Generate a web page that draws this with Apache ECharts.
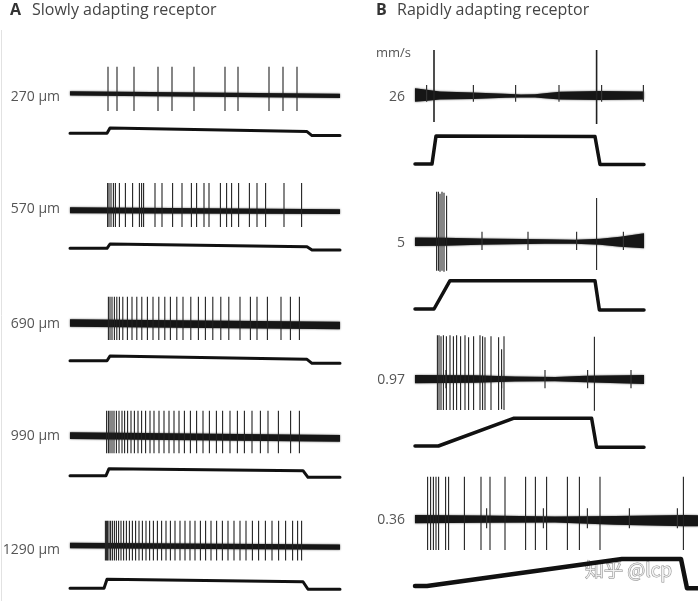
<!DOCTYPE html>
<html>
<head>
<meta charset="utf-8">
<script src="https://cdn.jsdelivr.net/npm/echarts/dist/echarts.min.js"></script>
<style>
  html, body { margin: 0; background: #fff; }
  #main { width: 698px; height: 601px; }
</style>
</head>
<body>
<div id="main"></div>
<script>
// time in ms from the start of each sweep, trace values in arbitrary units (up = positive)

// A  slowly adapting receptor: indentation depth
const labelsA = ['270 µm', '570 µm', '690 µm', '990 µm', '1290 µm'];
const spikeTimesA = [
  [190, 235, 320, 440, 510, 620, 775, 840, 995, 1065, 1135],
  [188, 195, 205, 217, 227, 247, 277, 313, 347, 358, 368, 425, 460, 513, 560, 607, 633, 670,
   695, 752, 783, 808, 843, 897, 935, 978, 1070, 1158],
  [192, 200, 210, 222, 234, 247, 264, 287, 310, 334, 359, 387, 415, 444, 474, 502, 534, 565,
   604, 642, 677, 714, 754, 794, 850, 902, 935, 987, 1055, 1102, 1147],
  [183, 192, 200, 210, 220, 232, 245, 260, 273, 288, 305, 322, 340, 358, 378, 400, 420, 445,
   470, 495, 520, 545, 572, 602, 633, 665, 697, 732, 763, 800, 837, 872, 910, 952, 990, 1042,
   1103, 1147],
  [177, 183, 188, 195, 203, 212, 222, 232, 243, 255, 268, 282, 297, 312, 328, 345, 362, 380,
   398, 417, 437, 458, 480, 502, 525, 550, 575, 600, 625, 652, 678, 705, 733, 762, 790, 820,
   850, 880, 912, 943, 977, 1010, 1043, 1078, 1113, 1138, 1158]
];
const spikeAmpA = [[26.8, -17.5], [27, -17], [26.6, -16.7], [26, -16.6], [27.4, -16]];
const bandA = [
  [[0, 2.3, -2], [1350, -0.3, -4.6]],
  [[0, 2.7, -3.3], [1350, 0.7, -4]],
  [[0, 4, -3.4], [1350, 1.6, -6]],
  [[0, 4.4, -2.3], [1350, 1.7, -5]],
  [[0, 3.4, -2.6], [1350, 1.4, -4.3]]
];
const stimA = [
  [[0, 0], [185, 0], [200, 5.3], [1185, 1.7], [1210, -2.3], [1350, -2.3]],
  [[0, 0], [185, 0], [200, 4.3], [1185, 1.6], [1210, -1.7], [1350, -1.7]],
  [[0, 0], [185, 0], [200, 4.7], [1185, 1.4], [1210, -2.6], [1350, -2.6]],
  [[0, 0], [180, 0], [195, 7], [1165, 5], [1190, -1.6], [1350, -1.6]],
  [[0, 0], [170, 0], [185, 9], [1165, 6.6], [1190, -1], [1350, -1]]
];

// B  rapidly adapting receptor: indentation velocity
const unitB = 'mm/s';
const labelsB = ['26', '5', '0.97', '0.36'];
const spikesB = [
  [[95, 46, -26], [908, 46, -28]],
  [[108, 50, -29], [117, 50, -29], [125, 48, -30], [135, 50, -29], [145, 49, -30], [158, 46, -29],
   [908, 43.7, -28.3]],
  [[112, 44, -30.7], [120, 44, -30.7], [130, 43, -30.7], [142, 44, -30.7], [157, 43, -30.7],
   [175, 44, -30.7], [192, 43, -30.7], [208, 44, -30.7], [228, 43, -30.7], [250, 44, -30.7],
   [268, 42, -30.7], [293, 43, -30.7], [325, 44, -30.7], [338, 43, -30.7], [350, 42, -30.7],
   [380, 43, -30.7], [418, 42, -30.7], [433, 30, -30], [445, 43, -30.7], [897, 42.6, -31.4]],
  [[63, 42.6, -30.7], [78, 42.6, -30.7], [92, 42.6, -30.7], [105, 42.6, -30.7], [118, 42.6, -30.7],
   [153, 42.6, -30.7], [168, 42.6, -30.7], [247, 42.6, -30.7], [330, 42.6, -30.7], [375, 42.6, -30.7],
   [450, 42.6, -30.7], [553, 42.6, -30.7], [602, 42.6, -30.7], [658, 42.6, -30.7], [762, 42.6, -30.7],
   [822, 42.6, -30.7], [925, 42.6, -30.7], [1342, 42.6, -30.7]]
];
const ticksB = [
  [58, 292, 503, 720, 933, 1142],
  [335, 565, 808, 1042],
  [155, 433, 650, 863, 1080],
  [358, 642, 862, 1072, 1312]
];
const tickAmpB = [[11, -5.7], [10, -8.3], [9.3, -9], [11, -9]];
const bandB = [
  [[0, 7.7, -5.7], [50, 6.5, -5], [125, 4.5, -3.5], [290, 3.5, -3], [450, 2.2, -1.8], [530, 1.6, -1.5],
   [600, 1.8, -1.6], [660, 3, -2.5], [725, 4.3, -3.5], [925, 5, -4], [1145, 4.5, -3.5]],
  [[0, 4.3, -4.3], [150, 4, -4], [325, 3.3, -3], [650, 2.5, -2.1], [800, 2, -2], [925, 3, -3],
   [1025, 5, -5], [1145, 8.4, -6.6]],
  [[0, 4.3, -4], [300, 4, -3.5], [500, 2.8, -2.3], [700, 2.4, -2], [850, 3.5, -3], [1145, 4.3, -4.7]],
  [[0, 4.3, -4], [350, 3.7, -3.5], [700, 2.9, -3.3], [1000, 3.3, -5.5], [1350, 4.3, -7], [1415, 4, -7]]
];
const stimB = [
  [[0, 0], [85, 0], [105, 28], [900, 27.5], [925, -0.5], [1145, -0.5]],
  [[0, 0], [95, 0], [175, 28.3], [900, 28.3], [922, -1], [1145, -1]],
  [[0, 0], [117, 0], [492, 27.7], [883, 27.7], [908, -1.3], [1145, -1.3]],
  [[0, 0], [60, 0], [1035, 27], [1330, 27], [1360, -2.3], [1415, -2.3]]
];

// ---- layout (pixels) ----
const traceYA = [93.5, 210, 323.3, 436.7, 550.7];
const stimYA = [133.3, 248.3, 360.7, 475.7, 588.3];
const labelYA = [97, 209.5, 324.5, 436.5, 550.5];
const traceYB = [96, 241.7, 379.3, 519.3];
const stimYB = [164, 309, 446, 586];
const labelYB = [97, 243, 380.5, 520.5];

const grids = [], xAxes = [], yAxes = [], series = [];

function addGrid(left, width, top, height, xmax, ymin, ymax) {
  grids.push({ left: left, top: top, width: width, height: height });
  const i = grids.length - 1;
  xAxes.push({ type: 'value', gridIndex: i, min: 0, max: xmax, show: false });
  yAxes.push({ type: 'value', gridIndex: i, min: ymin, max: ymax, show: false });
  return i;
}

// noisy recording baseline drawn as a filled envelope
function band(gi, pts) {
  series.push({
    type: 'custom', xAxisIndex: gi, yAxisIndex: gi, silent: true, data: pts,
    encode: { x: 0, y: [1, 2] },
    renderItem: function (params, api) {
      if (params.dataIndex !== 0) return null;
      const upper = pts.map(p => api.coord([p[0], p[1]]));
      const lower = pts.map(p => api.coord([p[0], p[2]])).reverse();
      return {
        type: 'polygon', shape: { points: upper.concat(lower) },
        style: { fill: '#161616', shadowBlur: 2, shadowColor: 'rgba(0,0,0,0.7)' }
      };
    }
  });
}

function spikes(gi, list, width, color) {
  series.push({
    type: 'custom', xAxisIndex: gi, yAxisIndex: gi, silent: true, data: list,
    encode: { x: 0, y: [1, 2] },
    renderItem: function (params, api) {
      const a = api.coord([api.value(0), api.value(1)]);
      const b = api.coord([api.value(0), api.value(2)]);
      return {
        type: 'line', shape: { x1: a[0], y1: a[1], x2: b[0], y2: b[1] },
        style: { stroke: color, lineWidth: width }
      };
    }
  });
}

function stim(gi, pts, w) {
  series.push({
    type: 'line', xAxisIndex: gi, yAxisIndex: gi, data: pts, showSymbol: false, silent: true,
    lineStyle: { color: '#111', width: w, cap: 'round', join: 'round' }
  });
}

const graphics = [];
function text(x, y, s, opt) {
  graphics.push({
    type: 'text', x: x, y: y, silent: true,
    style: Object.assign({
      text: s, fill: '#555', font: '14px "Open Sans", sans-serif',
      textAlign: 'left', textVerticalAlign: 'middle'
    }, opt || {})
  });
}

// panel A
labelsA.forEach((lab, r) => {
  const g = addGrid(70, 270, traceYA[r] - 60, 120, 1350, -60, 60);
  band(g, bandA[r]);
  spikes(g, spikeTimesA[r].map(t => [t, spikeAmpA[r][0], spikeAmpA[r][1]]), 1.1, '#222');
  const s = addGrid(70, 270, stimYA[r] - 40, 50, 1350, -10, 40);
  stim(s, stimA[r], 3);
  text(60, labelYA[r], lab, { textAlign: 'right' });
});

// panel B
labelsB.forEach((lab, r) => {
  const last = r === labelsB.length - 1;
  const w = last ? 283 : 229, xmax = last ? 1415 : 1145;
  const g = addGrid(415, w, traceYB[r] - 60, 120, xmax, -60, 60);
  band(g, bandB[r]);
  spikes(g, ticksB[r].map(t => [t, tickAmpB[r][0], tickAmpB[r][1]]), 1.2, '#333');
  spikes(g, spikesB[r], r === 0 ? 1.6 : 1.1, '#222');
  const s = addGrid(415, w, stimYB[r] - 40, 50, xmax, -10, 40);
  stim(s, stimB[r], last ? 4.5 : 3.5);
  text(405, labelYB[r], lab, { textAlign: 'right' });
});

text(10, 10, 'A', { font: 'bold 16px "Open Sans", sans-serif', fill: '#333' });
text(32, 10, 'Slowly adapting receptor', { font: '16px "Open Sans", sans-serif', fill: '#444' });
text(376, 10, 'B', { font: 'bold 16px "Open Sans", sans-serif', fill: '#333' });
text(397, 10, 'Rapidly adapting receptor', { font: '16px "Open Sans", sans-serif', fill: '#444' });
text(376, 53, unitB, { font: '13px "Open Sans", sans-serif' });
text(585, 570, '知乎 @lcp', {
  font: '19px "Noto Sans CJK SC", sans-serif', fill: 'rgba(255,255,255,0.75)',
  stroke: 'rgba(110,110,110,0.8)', lineWidth: 1
});
graphics.push({
  type: 'line', silent: true, shape: { x1: 1.5, y1: 30, x2: 1.5, y2: 601 },
  style: { stroke: '#e2e2e2', lineWidth: 1 }
});

const chart = echarts.init(document.getElementById('main'));
chart.setOption({
  animation: false,
  grid: grids,
  xAxis: xAxes,
  yAxis: yAxes,
  series: series,
  graphic: graphics
});
</script>
</body>
</html>
